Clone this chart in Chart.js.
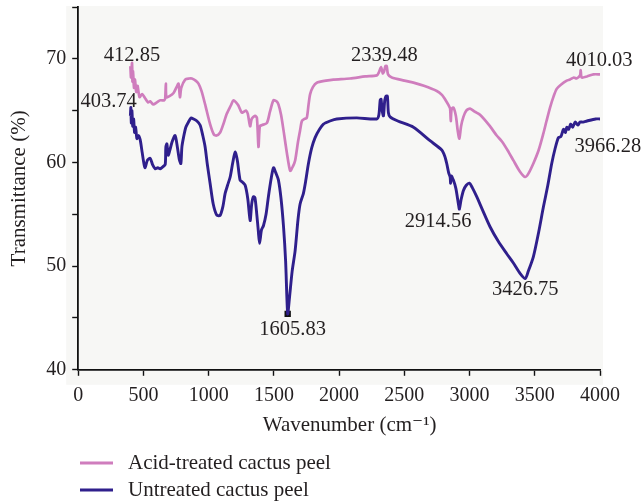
<!DOCTYPE html>
<html>
<head>
<meta charset="utf-8">
<script src="https://cdn.jsdelivr.net/npm/chart.js@4.4.1/dist/chart.umd.min.js"></script>
<style>
  html, body { margin: 0; padding: 0; background: #ffffff; }
  #wrap { width: 641px; height: 502px; position: relative; }
</style>
</head>
<body>
<div id="wrap"><canvas id="ftir" width="641" height="502"></canvas></div>
<script>
// FTIR spectra of cactus peel: wavenumber (cm-1) vs transmittance (%)
const seriesNames = ['Acid-treated cactus peel', 'Untreated cactus peel'];

const acidWn = [400, 405, 412.85, 416, 420, 428, 435, 445, 455, 470, 490, 513, 535, 552, 575, 603, 630, 660, 667, 672, 676, 700,
  731, 755, 769, 780, 790, 820, 850, 871, 900, 922, 945, 973, 1011, 1040, 1060, 1088, 1110, 1139, 1170, 1190, 1210,
  1228, 1254, 1270, 1287, 1300, 1318, 1330, 1356, 1370, 1382, 1392, 1407, 1446, 1470, 1497, 1520, 1535, 1555, 1574,
  1600, 1625, 1645, 1663, 1685, 1701, 1715, 1735, 1752, 1765, 1778, 1800, 1829, 1900, 1957, 2084, 2200, 2289, 2305,
  2322, 2335, 2345, 2355, 2365, 2375, 2404, 2500, 2570, 2650, 2749, 2790, 2812, 2840, 2851, 2856, 2862, 2876, 2895,
  2910, 2922, 2935, 2953, 2975, 3004, 3040, 3080, 3150, 3208, 3250, 3300, 3336, 3387, 3425, 3450, 3489, 3530, 3566,
  3590, 3617, 3645, 3668, 3700, 3745, 3770, 3800, 3820, 3847, 3852, 3860, 3900, 3950, 4000];
const acidT = [69.3, 68.2, 69.6, 67.8, 68.8, 67.2, 68.0, 66.8, 67.4, 66.3, 66.6, 66.2, 65.8, 65.9, 65.6, 65.8, 66.0, 66.0, 66.2, 67.6, 66.3, 66.4,
  66.7, 67.3, 67.6, 66.3, 67.2, 68.0, 68.1, 68.1, 67.9, 67.6, 66.9, 65.6, 63.7, 62.7, 62.6, 62.9, 63.6, 64.7, 65.5, 66.0, 65.8,
  65.5, 64.8, 64.9, 65.0, 64.7, 63.5, 64.2, 64.5, 64.3, 61.5, 63.5, 63.6, 63.8, 64.9, 66.0, 65.9, 65.6, 64.6, 63.1,
  60.9, 59.2, 59.6, 60.2, 62.0, 63.1, 64.0, 64.2, 64.3, 65.5, 66.6, 67.3, 67.7, 67.9, 68.0, 68.1, 68.3, 68.4, 68.7,
  69.2, 68.6, 68.8, 69.3, 69.3, 68.5, 68.2, 67.9, 67.7, 67.4, 66.9, 66.5, 66.1, 65.5, 65.2, 64.0, 65.1, 65.3, 64.5,
  63.0, 62.3, 63.5, 64.4, 65.0, 65.2, 64.9, 64.6, 63.6, 62.6, 62.0, 61.0, 60.2, 59.1, 58.6, 58.9, 59.9, 61.2, 62.8,
  64.0, 65.3, 66.4, 67.1, 67.5, 67.9, 68.0, 68.2, 68.1, 68.4, 68.9, 68.2, 68.3, 68.5, 68.5];

const rawWn = [400, 403.74, 407, 412, 418, 425, 432, 440, 450, 462, 475, 490, 505, 513, 530, 552, 570, 590, 610, 628, 650, 667,
  672, 680, 690, 705, 720, 743, 760, 775, 787, 795, 807, 825, 845, 865, 884, 910, 935, 955, 973, 990, 1011, 1035, 1063,
  1088, 1110, 1126, 1145, 1165, 1185, 1203, 1220, 1241, 1260, 1280, 1300, 1318, 1330, 1343, 1355, 1369, 1380, 1390,
  1405, 1420, 1440, 1458, 1480, 1497, 1515, 1535, 1555, 1574, 1590, 1605.83, 1620, 1640, 1663, 1685, 1701, 1726, 1745,
  1765, 1790, 1816, 1850, 1880, 1930, 1982, 2135, 2289, 2305, 2315, 2322, 2330, 2340, 2350, 2360, 2370, 2378, 2391,
  2450, 2570, 2697, 2787, 2810, 2825, 2840, 2851, 2855, 2860, 2876, 2895, 2914.56, 2922, 2935, 2953, 2975, 2999, 3020,
  3055, 3100, 3157, 3220, 3285, 3336, 3387, 3426.75, 3450, 3489, 3530, 3566, 3600, 3630, 3655, 3681, 3700, 3720, 3735,
  3745, 3760, 3775, 3790, 3810, 3830, 3847, 3870, 3900, 3966.28, 4000];
const rawT = [64.5, 65.3, 63.8, 65.0, 63.5, 64.2, 62.9, 63.4, 62.3, 62.6, 62.2, 61.0, 59.8, 59.5, 60.2, 60.4, 59.8, 59.4, 59.5, 59.4, 59.6, 59.8,
  61.5, 61.8, 60.7, 61.3, 62.0, 62.6, 61.5, 60.3, 59.9, 61.5, 62.4, 63.4, 63.9, 64.3, 64.2, 64.0, 63.6, 62.6, 61.5, 59.8, 58.0, 56.0, 54.9,
  54.9, 55.8, 57.0, 57.8, 58.6, 60.0, 61.0, 60.2, 58.3, 58.1, 57.8, 56.5, 54.4, 56.0, 56.7, 56.6, 55.0, 53.5, 52.2,
  53.5, 53.9, 55.0, 56.7, 58.5, 59.5, 59.0, 58.3, 56.5, 53.8, 50.5, 45.4, 47.0, 49.5, 51.5, 54.5, 56.0, 57.0, 58.3,
  59.9, 61.4, 62.4, 63.2, 63.7, 64.0, 64.2, 64.3, 64.2, 64.6, 66.0, 66.1, 65.0, 64.5, 66.0, 66.4, 66.4, 64.8, 64.4,
  64.0, 63.4, 62.1, 61.2, 60.6, 59.9, 59.0, 58.6, 58.0, 58.7, 58.3, 57.5, 56.0, 55.5, 56.4, 57.3, 57.8, 58.0, 57.6,
  56.7, 55.4, 53.8, 52.4, 51.2, 50.3, 49.3, 48.8, 49.5, 50.9, 53.3, 55.7, 57.8, 59.9, 61.3, 62.4, 62.5, 63.2, 62.9,
  63.4, 63.2, 63.7, 63.4, 63.9, 63.6, 63.9, 63.9, 64.0, 64.2, 64.2];

// Peak wavenumbers written on the plot
const peakWn = [412.85, 403.74, 2339.48, 4010.03, 3966.28, 2914.56, 3426.75, 1605.83];
// Marked minimum of the untreated spectrum
const markWn = [1605.83];
const markT = [45.4];

const xTicks = [0, 500, 1000, 1500, 2000, 2500, 3000, 3500, 4000];
const yTicks = [40, 50, 60, 70];

const SERIF = '"Liberation Serif", "DejaVu Serif", serif';
const INK = '#231f20';
const colors = ['#cf7dbd', '#2f1f8c'];

// where each peak label sits: text alignment, x shift (px), vertical level (transmittance units)
const labelPlace = [
  { align: 'center', dx: 0, level: 70.3 },
  { align: 'right', dx: 6, level: 65.9 },
  { align: 'center', dx: 1, level: 70.3 },
  { align: 'center', dx: -2, level: 69.8 },
  { align: 'left', dx: -21, level: 61.5 },
  { align: 'right', dx: 13, level: 54.3 },
  { align: 'center', dx: 0, level: 47.7 },
  { align: 'center', dx: 5, level: 43.85 }
];

const toPts = (xs, ys) => xs.map((x, i) => ({ x: x, y: ys[i] }));

const backdrop = {
  id: 'backdrop',
  beforeDraw(chart) {
    const c = chart.ctx;
    c.save();
    c.fillStyle = '#ffffff';
    c.fillRect(0, 0, chart.width, chart.height);
    const a = chart.chartArea;
    c.fillStyle = '#f7f7f5';
    c.fillRect(a.left - 12, a.top - 1, a.right - a.left + 15, a.bottom - a.top + 16);
    c.restore();
  }
};

const peakLabels = {
  id: 'peakLabels',
  afterDatasetsDraw(chart) {
    const c = chart.ctx, xs = chart.scales.x, ys = chart.scales.y;
    c.save();
    c.font = '20.5px ' + SERIF;
    c.fillStyle = INK;
    c.textBaseline = 'middle';
    peakWn.forEach((wn, i) => {
      const p = labelPlace[i];
      c.textAlign = p.align;
      c.fillText(wn.toFixed(2), xs.getPixelForValue(wn) + p.dx, ys.getPixelForValue(p.level));
    });
    c.restore();
  }
};

const lineLegend = {
  id: 'lineLegend',
  afterDraw(chart) {
    const c = chart.ctx;
    c.save();
    c.font = '21px ' + SERIF;
    c.fillStyle = INK;
    c.textBaseline = 'middle';
    c.textAlign = 'left';
    seriesNames.forEach((name, i) => {
      const y = 463 + i * 27;
      c.strokeStyle = chart.data.datasets[i].borderColor;
      c.lineWidth = 3;
      c.beginPath();
      c.moveTo(80, y);
      c.lineTo(113, y);
      c.stroke();
      c.fillText(name, 128, y);
    });
    c.restore();
  }
};

new Chart(document.getElementById('ftir'), {
  type: 'line',
  data: {
    datasets: [
      { label: seriesNames[0], data: toPts(acidWn, acidT), borderColor: colors[0], borderWidth: 2.7,
        pointRadius: 0, tension: 0.25, fill: false },
      { label: seriesNames[1], data: toPts(rawWn, rawT), borderColor: colors[1], borderWidth: 2.9,
        pointRadius: 0, tension: 0.25, fill: false },
      { label: 'marker', data: toPts(markWn, markT), showLine: false, pointStyle: 'rect',
        pointRadius: 4.5, backgroundColor: '#111111', borderColor: '#111111', borderWidth: 0 }
    ]
  },
  options: {
    responsive: false,
    animation: false,
    layout: { padding: { left: 7, right: 41, top: 7, bottom: 64 } },
    plugins: { legend: { display: false }, tooltip: { enabled: false } },
    scales: {
      x: {
        type: 'linear', min: 0, max: 4000,
        ticks: {
          stepSize: 250, color: INK, font: { family: SERIF, size: 20 }, padding: 8, maxRotation: 0,
          callback: v => xTicks.includes(v) ? String(v) : ''
        },
        grid: { drawOnChartArea: false, drawTicks: true, tickLength: 6, color: '#111', tickWidth: 1.4 },
        border: { display: true, color: '#111', width: 1.8 },
        title: { display: true, text: '    Wavenumber (cm\u207B\u00B9)', color: INK, font: { family: SERIF, size: 21 }, padding: { top: -3, bottom: 0 } }
      },
      y: {
        type: 'linear', min: 40, max: 75,
        afterFit: s => { s.paddingTop = 0; s.paddingBottom = 0; },
        ticks: {
          stepSize: 5, color: INK, font: { family: SERIF, size: 20 }, padding: 6,
          callback: v => yTicks.includes(v) ? String(v) : ''
        },
        grid: { drawOnChartArea: false, drawTicks: true, tickLength: 6, color: '#111', tickWidth: 1.4 },
        border: { display: true, color: '#111', width: 1.8 },
        title: { display: true, text: 'Transmittance (%)', color: INK, font: { family: SERIF, size: 21 }, padding: { top: 0, bottom: 8 } }
      }
    }
  },
  plugins: [backdrop, peakLabels, lineLegend]
});
</script>
</body>
</html>
